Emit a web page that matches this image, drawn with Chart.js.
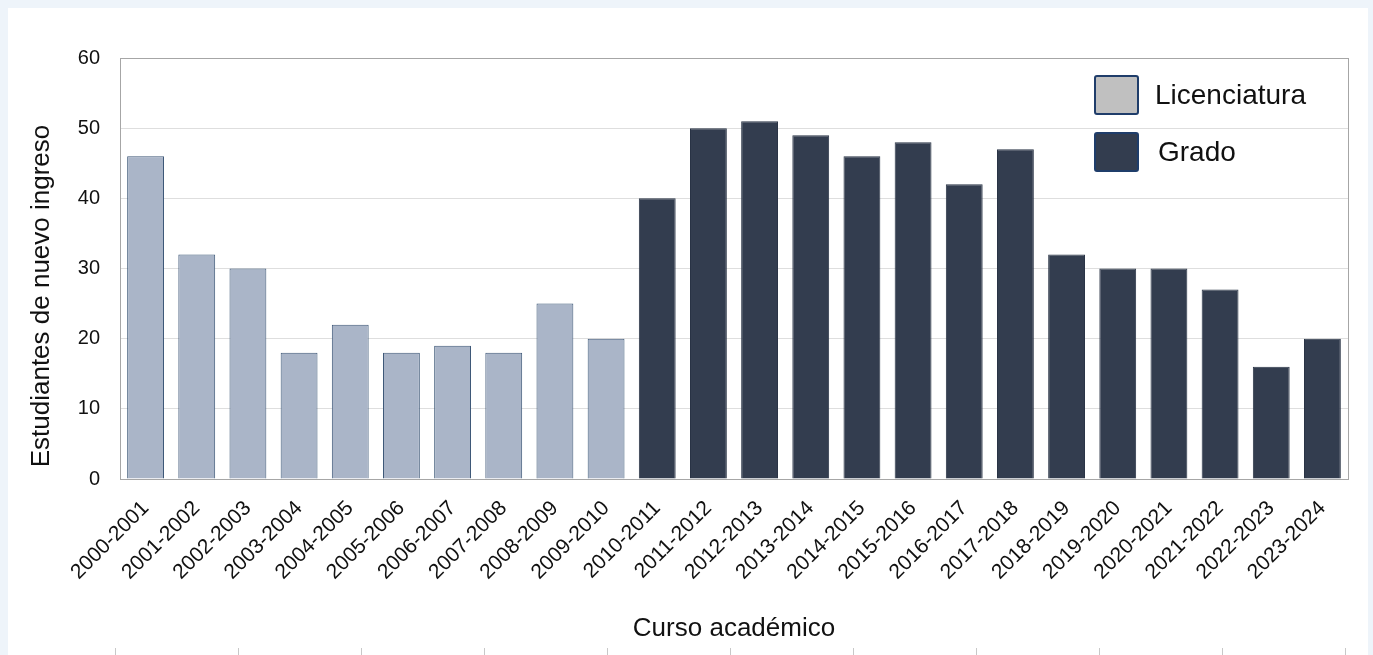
<!DOCTYPE html>
<html>
<head>
<meta charset="utf-8">
<script src="https://cdn.jsdelivr.net/npm/chart.js@4/dist/chart.umd.min.js"></script>
<style>
  html, body { margin: 0; padding: 0; background: #eef4fa; }
  #panel { position: absolute; left: 8px; top: 8px; width: 1360px; height: 660px; background: #fff; }
  #marks { position: absolute; left: 0; top: 648px; width: 1373px; height: 7px;
    background: repeating-linear-gradient(to right, transparent 0, transparent 115px, #c8c8c8 115px, #c8c8c8 116px, transparent 116px, transparent 123px); }
  #myChart { position: absolute; left: 0; top: 0; }
</style>
</head>
<body>
<div id="panel"></div>
<div id="marks"></div>
<canvas id="myChart" width="1373" height="655"></canvas>
<script>
// datos: estudiantes de nuevo ingreso por curso
var cursos = ["2000-2001","2001-2002","2002-2003","2003-2004","2004-2005","2005-2006","2006-2007","2007-2008","2008-2009","2009-2010",
  "2010-2011","2011-2012","2012-2013","2013-2014","2014-2015","2015-2016","2016-2017","2017-2018","2018-2019","2019-2020",
  "2020-2021","2021-2022","2022-2023","2023-2024"];
var licenciatura = [46, 32, 30, 18, 22, 18, 19, 18, 25, 20,
  null, null, null, null, null, null, null, null, null, null, null, null, null, null];
var grado = [null, null, null, null, null, null, null, null, null, null,
  40, 50, 51, 49, 46, 48, 42, 47, 32, 30, 30, 27, 16, 20];
var yTicks = [0, 10, 20, 30, 40, 50, 60];

var FONT = "'Liberation Sans', Arial, Helvetica, sans-serif";

// leyenda dentro del area del grafico + marco + titulo eje y
var extras = {
  id: 'extras',
  afterDraw: function(chart) {
    var ctx = chart.ctx, a = chart.chartArea;
    ctx.save();
    ctx.strokeStyle = '#a6a6a6';
    ctx.lineWidth = 1;
    ctx.strokeRect(Math.round(a.left) + 0.5, Math.round(a.top) + 0.5, Math.round(a.right - a.left), Math.round(a.bottom - a.top));

    var items = [
      { text: 'Licenciatura', fill: '#c0c0c0', y: 95, tx: 1155 },
      { text: 'Grado', fill: '#333d4f', y: 152, tx: 1158 }
    ];
    ctx.font = '28px ' + FONT;
    ctx.textBaseline = 'middle';
    items.forEach(function(it) {
      ctx.fillStyle = it.fill;
      ctx.strokeStyle = '#1f3d6a';
      ctx.lineWidth = 2;
      ctx.beginPath();
      ctx.roundRect(1095, it.y - 19, 43, 38, 2);
      ctx.fill();
      ctx.stroke();
      ctx.fillStyle = '#111';
      ctx.fillText(it.text, it.tx, it.y + 1);
    });

    ctx.translate(42, 296);
    ctx.rotate(-Math.PI / 2);
    ctx.textAlign = 'center';
    ctx.font = '26px ' + FONT;
    ctx.fillStyle = '#111';
    ctx.fillText('Estudiantes de nuevo ingreso', 0, 0);
    ctx.restore();
  }
};

var ctx = document.getElementById("myChart").getContext("2d");
var myChart = new Chart(ctx, {
  type: 'bar',
  data: {
    labels: cursos,
    datasets: [
      { label: "Licenciatura", data: licenciatura, backgroundColor: "#aab5c8", borderColor: "#3e5878", borderWidth: 1, grouped: false },
      { label: "Grado", data: grado, backgroundColor: "#333d4f", borderColor: "#2a3446", borderWidth: 1, grouped: false }
    ]
  },
  options: {
    responsive: false,
    devicePixelRatio: 1,
    animation: false,
    layout: { padding: { left: 0, right: 25, top: 58, bottom: 0 } },
    datasets: { bar: { categoryPercentage: 1, barPercentage: 0.72 } },
    plugins: { legend: { display: false }, tooltip: { enabled: false } },
    scales: {
      x: {
        grid: { display: false, drawTicks: false },
        border: { display: false },
        ticks: { autoSkip: false, minRotation: 45, maxRotation: 45, padding: 17, color: '#111', font: { family: FONT, size: 21 } },
        title: { display: true, text: 'Curso académico', color: '#111', font: { family: FONT, size: 26 }, padding: { top: 0, bottom: 11 } },
        afterFit: function(s) { s.height = 176; }
      },
      y: {
        min: 0, max: 60,
        afterBuildTicks: function(s) { s.ticks = yTicks.map(function(v) { return { value: v }; }); },
        grid: { color: '#dedede', drawTicks: false },
        border: { display: false },
        ticks: { padding: 20, color: '#111', font: { family: FONT, size: 20 } },
        afterFit: function(s) { s.width = 120; }
      }
    }
  },
  plugins: [extras]
});
</script>
</body>
</html>
